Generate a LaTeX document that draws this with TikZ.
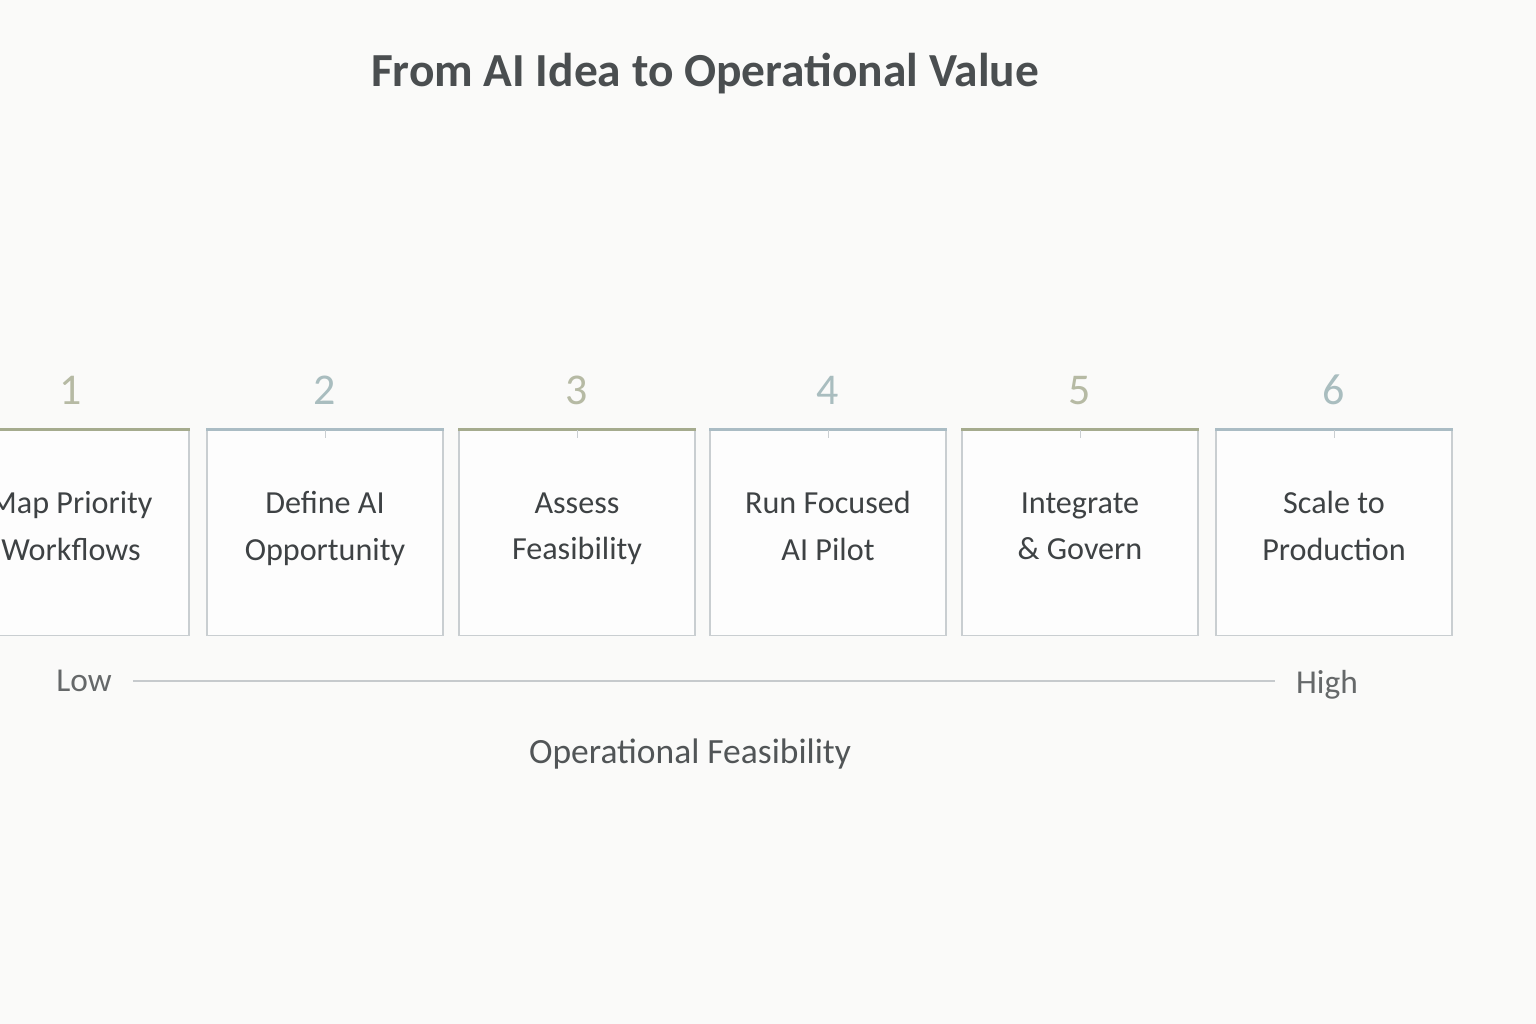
\documentclass[tikz,border=0pt]{standalone}
\usepackage{fontspec}
\setmainfont{Carlito}
\usetikzlibrary{positioning}
\definecolor{bgpaper}{HTML}{FAFAF9}
\definecolor{boxline}{HTML}{C9CED1}
\definecolor{barolive}{HTML}{A5AB8E}
\definecolor{barblue}{HTML}{AABCC4}
\definecolor{numolive}{HTML}{B6BAA4}
\definecolor{numblue}{HTML}{A9BDBF}
\definecolor{inktext}{HTML}{3E4244}
\definecolor{titleink}{HTML}{4A4E50}
\definecolor{axisink}{HTML}{C6CACD}
\tikzset{
  stagebox/.style={draw=boxline, line width=0.7pt, fill=white!60!bgpaper,
    minimum width=4.72cm, minimum height=4.1cm, align=center,
    font=\fontsize{18.3}{26.5}\selectfont, text=inktext,
    execute at begin node=\rule{0pt}{23pt}, execute at end node=\strut},
  stagenum/.style={font=\fontsize{25}{28}\selectfont},
  topbar/.style={line width=1.8pt},
  axislabel/.style={font=\fontsize{19}{22}\selectfont, text=inktext!80}
}
\begin{document}
\begin{tikzpicture}[x=0.02cm, y=-0.02cm]
        \useasboundingbox (0,0) rectangle (1536,1024);
        \fill[bgpaper] (0,0) rectangle (1536,1024);
        \clip (0,0) rectangle (1536,1024);

        \node[font=\bfseries\fontsize{27}{31}\selectfont, text=titleink] (title) at (705,74) {From AI Idea to Operational Value};

        \node[stagebox] (s1) at (71,533) {Map Priority\\Workflows};
        \node[stagebox] (s2) at (325,533) {Define AI\\Opportunity};
        \node[stagebox] (s3) at (577,533) {Assess\\Feasibility};
        \node[stagebox] (s4) at (828,533) {Run Focused\\AI Pilot};
        \node[stagebox] (s5) at (1080,533) {Integrate\\\& Govern};
        \node[stagebox] (s6) at (1334,533) {Scale to\\Production};

        \draw[topbar, barolive] (s1.north west) -- (s1.north east);
        \draw[topbar, barblue] (s2.north west) -- (s2.north east);
        \draw[topbar, barolive] (s3.north west) -- (s3.north east);
        \draw[topbar, barblue] (s4.north west) -- (s4.north east);
        \draw[topbar, barolive] (s5.north west) -- (s5.north east);
        \draw[topbar, barblue] (s6.north west) -- (s6.north east);
        \draw[boxline] (s2.north) -- ++(0,8);
        \draw[boxline] (s3.north) -- ++(0,8);
        \draw[boxline] (s4.north) -- ++(0,8);
        \draw[boxline] (s5.north) -- ++(0,8);
        \draw[boxline] (s6.north) -- ++(0,8);

        \node[stagenum, text=numolive, above=0.38cm of s1.north] (n1) {1};
        \node[stagenum, text=numblue, above=0.38cm of s2.north] (n2) {2};
        \node[stagenum, text=numolive, above=0.38cm of s3.north] (n3) {3};
        \node[stagenum, text=numblue, above=0.38cm of s4.north] (n4) {4};
        \node[stagenum, text=numolive, above=0.38cm of s5.north] (n5) {5};
        \node[stagenum, text=numblue, above=0.38cm of s6.north] (n6) {6};

        \node[axislabel] (low) at (84,681) {Low};
        \node[axislabel] (high) at (1327,685) {High};
        \draw[axisink, line width=1pt, shorten <=0.3cm, shorten >=0.3cm] (low.east) -- (low.east -| high.west);

        \node[font=\fontsize{20.2}{24}\selectfont, text=inktext!90] (xlabel) at (690,754) {Operational Feasibility};
    \end{tikzpicture}
\end{document}
